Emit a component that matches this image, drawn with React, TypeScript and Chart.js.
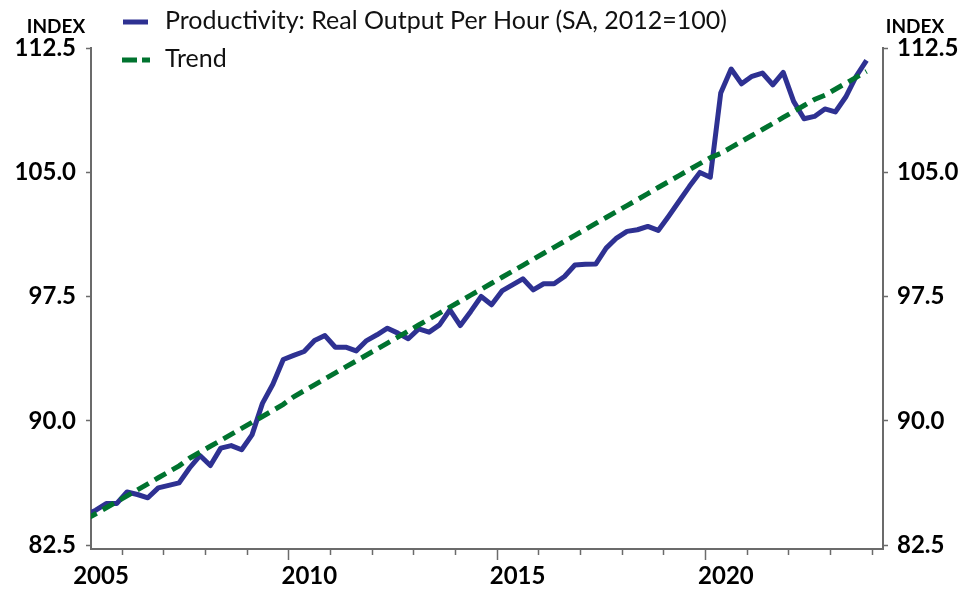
import React, { useEffect, useRef } from 'react';
import { Chart, registerables } from 'chart.js';

Chart.register(...registerables);

// ---- data (quarterly, 2005 Q1 .. 2023 Q4) ----
const START_YEAR = 2005;
const seriesNames = ['Productivity: Real Output Per Hour (SA, 2012=100)', 'Trend'];
const axisTitle = 'INDEX';

const productivity = [
  84.3, 84.6, 85.0, 85.0,
  85.7, 85.55, 85.35, 85.95,
  86.1, 86.25, 87.15, 87.9,
  87.3, 88.35, 88.5, 88.25,
  89.15, 91.05, 92.2, 93.7,
  93.95, 94.18, 94.84, 95.14,
  94.44, 94.44, 94.22, 94.84,
  95.19, 95.59, 95.29, 94.95,
  95.55, 95.35, 95.79, 96.7,
  95.75, 96.6, 97.5, 97.0,
  97.84, 98.2, 98.57, 97.9,
  98.27, 98.27, 98.71, 99.4,
  99.45, 99.46, 100.42, 101.03,
  101.43, 101.53, 101.73, 101.49,
  102.35, 103.25, 104.15, 104.99,
  104.7, 109.78, 111.23, 110.34,
  110.79, 110.99, 110.28, 111.03,
  109.28, 108.23, 108.37, 108.82,
  108.64, 109.54, 110.79, 111.75,
];

const trend = [
  84.03, 84.39, 84.75, 85.11,
  85.47, 85.83, 86.19, 86.56,
  86.92, 87.28, 87.74, 88.10,
  88.46, 88.82, 89.18, 89.54,
  89.90, 90.26, 90.62, 90.99,
  91.45, 91.81, 92.17, 92.53,
  92.89, 93.25, 93.61, 93.97,
  94.33, 94.69, 95.05, 95.42,
  95.78, 96.14, 96.50, 96.86,
  97.22, 97.58, 97.94, 98.30,
  98.66, 99.02, 99.38, 99.75,
  100.11, 100.47, 100.83, 101.19,
  101.55, 101.91, 102.27, 102.63,
  102.99, 103.35, 103.71, 104.08,
  104.44, 104.80, 105.16, 105.52,
  105.88, 106.14, 106.50, 106.86,
  107.22, 107.58, 107.94, 108.31,
  108.67, 109.03, 109.39, 109.65,
  110.01, 110.37, 110.73, 111.09,
];

const yTickValues = [82.5, 90, 97.5, 105, 112.5];
const xLabelYears = [2005, 2010, 2015, 2020];
const xTickYears = [2006, 2007, 2008, 2009, 2010, 2011, 2012, 2013, 2014, 2015, 2016, 2017, 2018, 2019, 2020, 2021, 2022, 2023, 2024];

// ---- style ----
const BLUE = '#2e3192';
const GREEN = '#00732f';
const AXIS = '#6b6b6b';
const FONT = 'Lato, "Open Sans", sans-serif';
const X_MIN = 2005.26;
const X_MAX = 2024.27;
const Y_MIN = 82.26;
const Y_MAX = 112.5;

const toPoints = (vals: number[]) =>
  vals.map((v, i) => ({ x: START_YEAR + (i + 0.5) / 4, y: v }));

const decorations = {
  id: 'decorations',
  afterDraw(chart: any) {
    const { ctx, chartArea, scales } = chart;
    const xs = scales.x;
    ctx.save();
    // x tick marks
    ctx.strokeStyle = AXIS;
    ctx.lineWidth = 1.5;
    xTickYears.forEach((yr) => {
      const px = xs.getPixelForValue(yr);
      if (px < chartArea.left - 0.5 || px > chartArea.right + 0.5) return;
      const len = yr % 5 === 0 ? 10 : 5;
      ctx.beginPath();
      ctx.moveTo(Math.round(px) + 0.5, chartArea.bottom);
      ctx.lineTo(Math.round(px) + 0.5, chartArea.bottom + len + 1);
      ctx.stroke();
    });

    // axis titles
    ctx.fillStyle = '#000';
    ctx.font = `bold 19px ${FONT}`;
    ctx.textAlign = 'center';
    ctx.textBaseline = 'alphabetic';
    ctx.fillText(axisTitle, 56, 33);
    ctx.fillText(axisTitle, 915, 33);

    // legend
    ctx.textAlign = 'left';
    ctx.font = `25px ${FONT}`;
    ctx.fillStyle = '#111';
    ctx.lineCap = 'butt';
    ctx.lineWidth = 5;
    ctx.strokeStyle = BLUE;
    ctx.setLineDash([]);
    ctx.beginPath();
    ctx.moveTo(123, 22);
    ctx.lineTo(148, 22);
    ctx.stroke();
    ctx.fillText(seriesNames[0], 165, 29);

    ctx.strokeStyle = GREEN;
    ctx.setLineDash([15, 5]);
    ctx.beginPath();
    ctx.moveTo(122, 60);
    ctx.lineTo(150, 60);
    ctx.stroke();
    ctx.setLineDash([]);
    ctx.fillText(seriesNames[1], 165, 67);
    ctx.restore();
  },
};

const yAxis = (position: 'left' | 'right', width: number) => ({
  type: 'linear' as const,
  position,
  min: Y_MIN,
  max: Y_MAX,
  afterBuildTicks: (s: any) => {
    s.ticks = yTickValues.map((v) => ({ value: v }));
  },
  afterFit: (s: any) => {
    s.width = width;
  },
  ticks: {
    callback: (v: any) => Number(v).toFixed(1),
    color: '#000',
    font: { family: FONT, size: 24, weight: 'bold' as const },
    padding: position === 'left' ? 10 : 9,
  },
  grid: {
    drawOnChartArea: false,
    drawTicks: true,
    tickLength: 5,
    color: AXIS,
    tickWidth: 1.5,
  },
  border: { display: true, color: AXIS, width: 2 },
});

export default function App() {
  const canvasRef = useRef<HTMLCanvasElement | null>(null);

  useEffect(() => {
    const canvas = canvasRef.current;
    if (!canvas) return;
    const chart = new Chart(canvas, {
      type: 'line',
      data: {
        datasets: [
          {
            label: seriesNames[0],
            data: toPoints(productivity),
            borderColor: BLUE,
            backgroundColor: BLUE,
            borderWidth: 5,
            pointRadius: 0,
            tension: 0,
            borderJoinStyle: 'round',
            order: 1,
            yAxisID: 'y',
          },
          {
            label: seriesNames[1],
            data: toPoints(trend),
            borderColor: GREEN,
            backgroundColor: GREEN,
            borderWidth: 5,
            borderDash: [13, 7],
            pointRadius: 0,
            tension: 0,
            order: 0,
            yAxisID: 'y',
          },
        ],
      },
      options: {
        responsive: false,
        animation: false,
        devicePixelRatio: 1,
        layout: { padding: { top: 48, left: 0, right: 0, bottom: 0 } },
        plugins: {
          legend: { display: false },
          tooltip: { enabled: false },
          title: { display: false },
        },
        scales: {
          x: {
            type: 'linear',
            min: X_MIN,
            max: X_MAX,
            afterBuildTicks: (s: any) => {
              s.ticks = xLabelYears.map((y) => ({ value: y + 0.5 }));
            },
            afterFit: (s: any) => {
              s.height = 43;
            },
            ticks: {
              callback: (v: any) => String(Math.floor(Number(v))),
              autoSkip: false,
              maxRotation: 0,
              color: '#000',
              font: { family: FONT, size: 24, weight: 'bold' },
              padding: 13,
            },
            grid: { display: false, drawTicks: false },
            border: { display: true, color: AXIS, width: 2 },
          },
          y: yAxis('left', 91),
          y2: yAxis('right', 79),
        },
      },
      plugins: [decorations],
    });
    return () => chart.destroy();
  }, []);

  return (
    <div style={{ position: 'fixed', left: 0, top: 0, width: 962, height: 592, background: '#fff' }}>
      <canvas ref={canvasRef} width={962} height={592} style={{ width: 962, height: 592, display: 'block' }} />
    </div>
  );
}
